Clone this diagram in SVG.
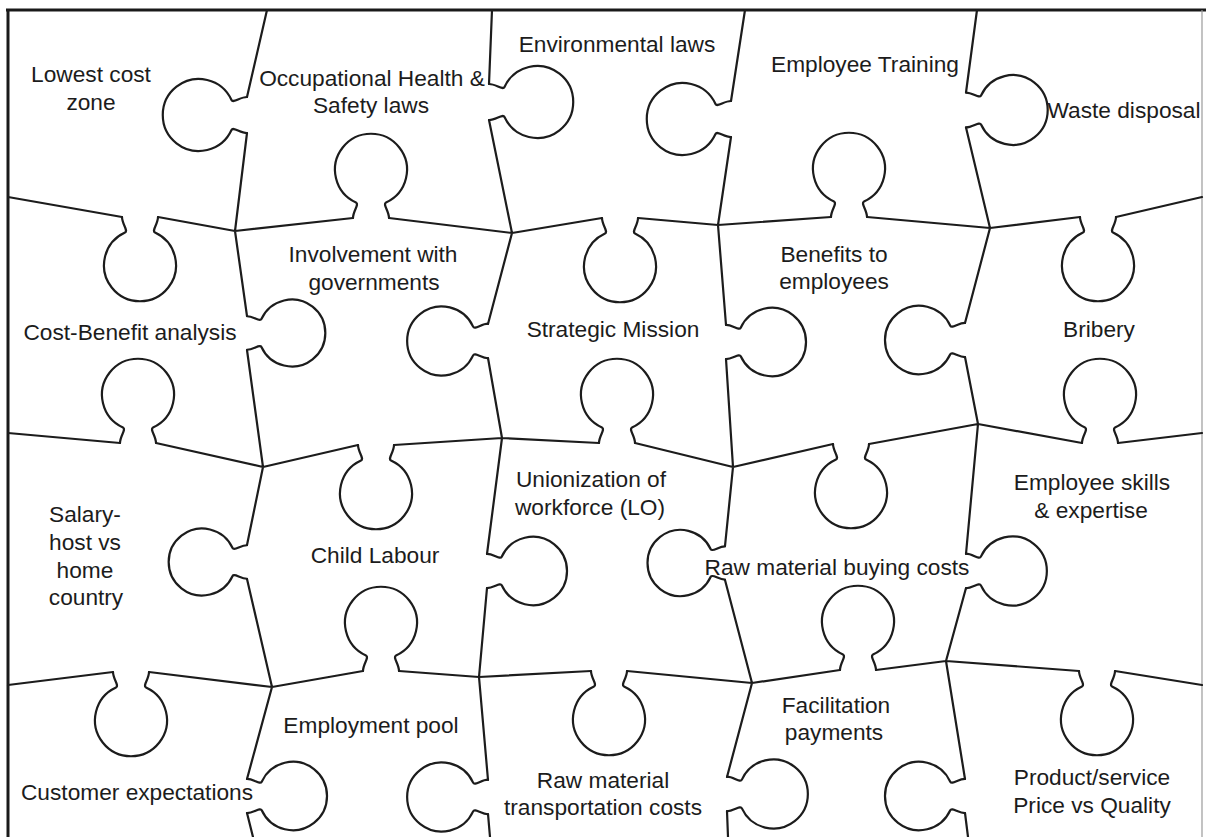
<svg xmlns="http://www.w3.org/2000/svg" xmlns:xlink="http://www.w3.org/1999/xlink" width="1206" height="837" viewBox="0 0 1206 837">
<style>
.cut{fill:none;stroke:#1c1c1c;stroke-width:2.2;stroke-linecap:round;stroke-linejoin:round}
.lbl{font-family:"Liberation Sans",Arial,sans-serif;font-size:22.7px;fill:#1c1c1c;text-anchor:middle}
</style>
<defs>
<path id="k" vector-effect="non-scaling-stroke" d="M-18,0 C-18,-7 -11.4,-13.8 -15,-15.5 A36,36 0 1 1 15,-15.5 C11.4,-13.8 18,-7 18,0"/>
</defs>
<rect x="0" y="0" width="1206" height="837" fill="#ffffff"/>
<g id="frame">
<line x1="6" y1="10" x2="1206" y2="10" stroke="#1a1a1a" stroke-width="3"/>
<line x1="8" y1="9" x2="8" y2="837" stroke="#1a1a1a" stroke-width="3"/>
<line x1="1202" y1="10" x2="1202" y2="837" stroke="#9a9a9a" stroke-width="1.2"/>
</g>
<g id="connectors" class="cut">
<path d="M8,197 L122,217 M158,217 L235,231 L353,218 M389,218 L512,233 L602,218 M638,218 L718,225 L831,217 M867,217 L990,228 L1080,217 M1116,217 L1202,197
M8,433 L120,443 M156,443 L263,467 L358,445 M394,445 L502,438 L599,443 M635,443 L733,467 L833,444 M869,444 L978,424 L1082,443 M1118,443 L1202,433
M8,685 L113,672 M149,672 L272,687 L363,671 M399,671 L479,677 L591,671 M627,671 L752,683 L840,670 M876,670 L946,661 L1079,671 M1115,671 L1202,685
M267,10 L247,97 M247,133 L235,231 L247,316 M247,350 L263,467 L247,545 M247,579 L272,687 L247,779 M247,813 L253,837
M492,10 L489,84 M489,120 L512,233 L488,324 M488,358 L502,438 L487,554 M487,588 L479,677 L488,780 M488,814 L490,837
M745,10 L731,101 M731,137 L718,225 L726,325 M726,359 L733,467 L725,546 M725,580 L752,683 L727,777 M727,811 L728,837
M977,10 L966,92.5 M966,127.5 L990,228 L965,323 M965,357 L978,424 L966,554 M966,588 L946,661 L965,779 M965,813 L968,837"/>
<use xlink:href="#k" href="#k" transform="translate(140,217) rotate(180)"/>
<use xlink:href="#k" href="#k" transform="translate(371,218)"/>
<use xlink:href="#k" href="#k" transform="translate(620,218) rotate(180)"/>
<use xlink:href="#k" href="#k" transform="translate(849,217)"/>
<use xlink:href="#k" href="#k" transform="translate(1098,217) rotate(180)"/>
<use xlink:href="#k" href="#k" transform="translate(138,443)"/>
<use xlink:href="#k" href="#k" transform="translate(376,445) rotate(180)"/>
<use xlink:href="#k" href="#k" transform="translate(617,443)"/>
<use xlink:href="#k" href="#k" transform="translate(851,444) rotate(180)"/>
<use xlink:href="#k" href="#k" transform="translate(1100,443)"/>
<use xlink:href="#k" href="#k" transform="translate(131,672) rotate(180)"/>
<use xlink:href="#k" href="#k" transform="translate(381,671)"/>
<use xlink:href="#k" href="#k" transform="translate(609,671) rotate(180)"/>
<use xlink:href="#k" href="#k" transform="translate(858,670)"/>
<use xlink:href="#k" href="#k" transform="translate(1097,671) rotate(180)"/>
<use xlink:href="#k" href="#k" transform="translate(247,115) rotate(-90)"/>
<use xlink:href="#k" href="#k" transform="translate(247,333) rotate(90) scale(0.93)"/>
<use xlink:href="#k" href="#k" transform="translate(247,562) rotate(-90) scale(0.93)"/>
<use xlink:href="#k" href="#k" transform="translate(247,796) rotate(90) scale(0.95)"/>
<use xlink:href="#k" href="#k" transform="translate(489,102) rotate(90)"/>
<use xlink:href="#k" href="#k" transform="translate(488,341) rotate(-90) scale(0.96)"/>
<use xlink:href="#k" href="#k" transform="translate(487,571) rotate(90) scale(0.95)"/>
<use xlink:href="#k" href="#k" transform="translate(488,797) rotate(-90) scale(0.96)"/>
<use xlink:href="#k" href="#k" transform="translate(731,119) rotate(-90)"/>
<use xlink:href="#k" href="#k" transform="translate(726,342) rotate(90) scale(0.95)"/>
<use xlink:href="#k" href="#k" transform="translate(725,563) rotate(-90) scale(0.92)"/>
<use xlink:href="#k" href="#k" transform="translate(727,794) rotate(90) scale(0.96)"/>
<use xlink:href="#k" href="#k" transform="translate(966,110) rotate(90) scale(0.97)"/>
<use xlink:href="#k" href="#k" transform="translate(965,340) rotate(-90) scale(0.95)"/>
<use xlink:href="#k" href="#k" transform="translate(966,571) rotate(90) scale(0.96)"/>
<use xlink:href="#k" href="#k" transform="translate(965,796) rotate(-90) scale(0.95)"/>
</g>
<g id="p-lowest-cost" class="lbl"><text x="91" y="82">Lowest cost</text><text x="91" y="110">zone</text></g>
<g id="p-ohs" class="lbl"><text x="372" y="86">Occupational Health &amp;</text><text x="371" y="113">Safety laws</text></g>
<g id="p-env" class="lbl"><text x="617" y="52">Environmental laws</text></g>
<g id="p-training" class="lbl"><text x="865" y="72">Employee Training</text></g>
<g id="p-waste" class="lbl"><text x="1124" y="118">Waste disposal</text></g>
<g id="p-gov" class="lbl"><text x="373" y="262">Involvement with</text><text x="374" y="290">governments</text></g>
<g id="p-benefits" class="lbl"><text x="834" y="262">Benefits to</text><text x="834" y="289">employees</text></g>
<g id="p-cba" class="lbl"><text x="130" y="340">Cost-Benefit analysis</text></g>
<g id="p-mission" class="lbl"><text x="613" y="337">Strategic Mission</text></g>
<g id="p-bribery" class="lbl"><text x="1099" y="337">Bribery</text></g>
<g id="p-salary" class="lbl"><text x="85" y="522">Salary-</text><text x="85" y="550">host vs</text><text x="85" y="578">home</text><text x="86" y="605">country</text></g>
<g id="p-child" class="lbl"><text x="375" y="563">Child Labour</text></g>
<g id="p-union" class="lbl"><text x="591" y="487">Unionization of</text><text x="590" y="515">workforce (LO)</text></g>
<g id="p-skills" class="lbl"><text x="1092" y="490">Employee skills</text><text x="1091" y="518">&amp; expertise</text></g>
<g id="p-rawbuy" class="lbl"><text x="837" y="575">Raw material buying costs</text></g>
<g id="p-pool" class="lbl"><text x="371" y="733">Employment pool</text></g>
<g id="p-customer" class="lbl"><text x="137" y="800">Customer expectations</text></g>
<g id="p-rawtrans" class="lbl"><text x="603" y="788">Raw material</text><text x="603" y="815">transportation costs</text></g>
<g id="p-facil" class="lbl"><text x="836" y="713">Facilitation</text><text x="834" y="740">payments</text></g>
<g id="p-product" class="lbl"><text x="1092" y="785">Product/service</text><text x="1092" y="813">Price vs Quality</text></g>
</svg>
